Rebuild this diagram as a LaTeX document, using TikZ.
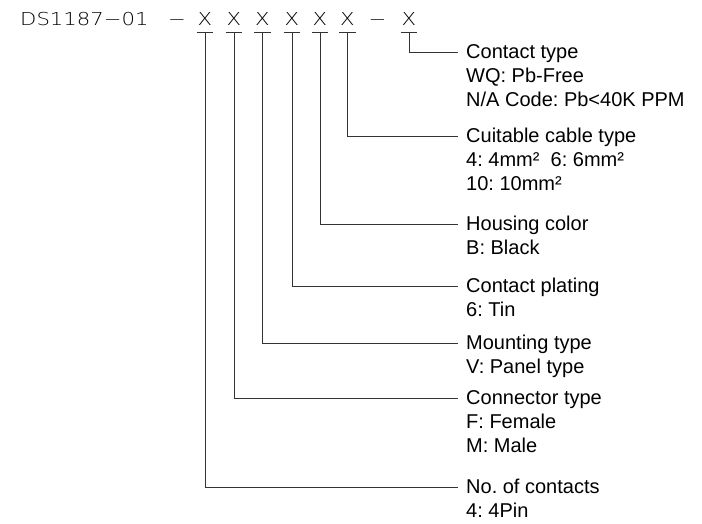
\documentclass[tikz,border=0pt]{standalone}
\usepackage{fontspec}
\setmainfont{Liberation Sans}
\newfontfamily\codefont[FakeStretch=1.19]{DejaVu Sans ExtraLight}
\newcommand\rows[1]{\begin{tabular}[t]{@{}l@{}}#1\end{tabular}}
\frenchspacing
\tikzset{
  code/.style={font=\codefont\fontsize{17.8}{24}\selectfont, text=black, inner sep=0pt},
  xmark/.style={code, anchor=base, minimum width=16pt, inner xsep=0pt, inner ysep=7pt, text depth=0pt},
  lab/.style={font=\fontsize{20}{24}\selectfont\frenchspacing, anchor=base west, inner xsep=8pt, inner ysep=0pt},
  lead/.style={draw=black!80, line width=0.9pt}
}
\begin{document}
\begin{tikzpicture}[x=1pt, y=-1pt]
      \useasboundingbox[fill=white] (0,0) rectangle (702,523);
      \node[code, anchor=base west] (pn) at (20, 25){DS1187−01};
      \node[code, anchor=base] (d1) at (177, 25){−};
      \node[xmark] (x1) at (205, 25){X};
      \node[xmark] (x2) at (234, 25){X};
      \node[xmark] (x3) at (262.5, 25){X};
      \node[xmark] (x4) at (292, 25){X};
      \node[xmark] (x5) at (320, 25){X};
      \node[xmark] (x6) at (347.5, 25){X};
      \node[code, anchor=base] (d2) at (377.5, 25){−};
      \node[xmark] (x7) at (409, 25){X};

      \node[lab] (t7) at (458, 58.5){\rows{Contact type\\WQ: Pb-Free\\N/A Code: Pb<40K PPM}};
      \node[lab] (t6) at (458, 142.5){\rows{Cuitable cable type\\4: 4mm²\ \ 6: 6mm²\\10: 10mm²}};
      \node[lab] (t5) at (458, 230.5){\rows{Housing color\\B: Black}};
      \node[lab] (t4) at (458, 292.5){\rows{Contact plating\\6: Tin}};
      \node[lab] (t3) at (458, 349.5){\rows{Mounting type\\V: Panel type}};
      \node[lab] (t2) at (458, 404.5){\rows{Connector type\\F: Female\\M: Male}};
      \node[lab] (t1) at (458, 493.5){\rows{No. of contacts\\4: 4Pin}};

      \draw[lead] (x1.south west) to (x1.south east);
      \draw[lead] (x2.south west) to (x2.south east);
      \draw[lead] (x3.south west) to (x3.south east);
      \draw[lead] (x4.south west) to (x4.south east);
      \draw[lead] (x5.south west) to (x5.south east);
      \draw[lead] (x6.south west) to (x6.south east);
      \draw[lead] (x7.south west) to (x7.south east);

      \draw[lead] (x7.south) |- ([yshift=6.5pt]t7.base west);
      \draw[lead] (x6.south) |- ([yshift=6.5pt]t6.base west);
      \draw[lead] (x5.south) |- ([yshift=6.5pt]t5.base west);
      \draw[lead] (x4.south) |- ([yshift=6.5pt]t4.base west);
      \draw[lead] (x3.south) |- ([yshift=6.5pt]t3.base west);
      \draw[lead] (x2.south) |- ([yshift=6.5pt]t2.base west);
      \draw[lead] (x1.south) |- ([yshift=6.5pt]t1.base west);
    \end{tikzpicture}
\end{document}
